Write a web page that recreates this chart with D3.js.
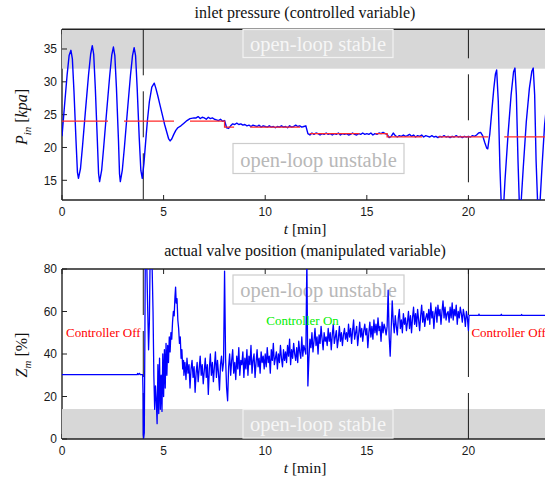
<!DOCTYPE html>
<html lang="en">
<head>
<meta charset="UTF-8">
<title>Inlet pressure and valve position</title>
<script src="https://d3js.org/d3.v7.min.js"></script>
<style>
    body { margin: 0; background: #fff; }
    svg { display: block; }
    .tick-label { font-family: "Liberation Sans", Arial, sans-serif; font-size: 12px; fill: #1a1a1a; }
    .serif { font-family: "Liberation Serif", "Times New Roman", serif; }
</style>
</head>
<body>
<div id="chart"></div>
<script>
// ---------- data ----------
var xTicks = [0, 5, 10, 15, 20];
var pinTicks = [15, 20, 25, 30, 35];
var zmTicks = [0, 20, 40, 60, 80];
var switchTimes = [4, 20];   // controller on / off [min]

// inlet pressure P_in [kPa] - start-up, controller off then on
var pinStartT = [0, 0.1, 0.25, 0.35, 0.44, 0.51, 0.59, 0.69, 0.76, 0.81,
    0.91, 1.01, 1.16, 1.31, 1.41, 1.49, 1.56, 1.64, 1.74, 1.80, 1.85,
    1.95, 2.05, 2.2, 2.35, 2.45, 2.53, 2.6, 2.68, 2.78, 2.83, 2.87,
    2.97, 3.07, 3.22, 3.37, 3.47, 3.55, 3.62, 3.7, 3.8, 3.88, 3.95,
    4.03, 4.12, 4.2, 4.3, 4.42, 4.54, 4.62, 4.72, 4.82, 4.95, 5.05, 5.15, 5.25, 5.32,
    5.4, 5.5, 5.6, 5.7, 5.85, 6.0, 6.15, 6.3, 6.5];
var pinStartV = [21.7, 25.5, 31, 34, 34.8, 33.5, 28.5, 21, 16.2, 15.3,
    16.8, 20.2, 25.8, 31.2, 34.2, 35.5, 34.2, 29, 21, 16, 14.8,
    16.5, 20, 25.6, 31, 34.1, 35.3, 34, 29, 21, 16, 14.8,
    16.6, 20, 25.6, 31, 34, 35.2, 34, 29, 21.5, 16.5, 15.3,
    17.5, 21, 24, 27, 29.2, 29.8, 29, 27.8, 26.5, 24.8, 23.5, 22.4, 21.3, 21.0,
    21.3, 22, 22.6, 23, 23.3, 23.7, 24.1, 24.4, 24.5];
// controlled part, sampled every 0.1 min from 6.6 min
var pinMidStart = 6.6, pinMidStep = 0.1;
var pinMid = [24.5, 24.7, 24.4, 24.6, 24.5, 24.3, 24.6, 24.4, 24.5, 24.3,
    24.2, 24.1, 24.3, 24.0,
    24.1, 23.0, 22.9, 23.3, 23.6, 23.5, 23.7, 23.5, 23.6, 23.4,
    23.5, 23.3, 23.4, 23.2, 23.4, 23.3, 23.2, 23.4, 23.1, 23.3,
    23.2, 23.1, 23.3, 23.1, 23.2, 23.0, 23.2, 23.1, 23.3, 23.1,
    23.2, 23.0, 23.3, 23.1, 23.2, 23.4, 23.2, 23.3, 23.1, 23.2,
    23.3, 22.1, 21.9, 22.2, 22.0, 22.2, 22.1, 21.9, 22.1, 22.0,
    22.2, 22.0, 22.1, 21.9, 22.1, 22.0, 22.2, 21.9, 22.1, 22.0,
    22.1, 21.9, 22.0, 22.2, 22.0, 21.9, 22.1, 22.0, 22.2, 22.0,
    22.1, 22.0, 22.2, 21.9, 22.1, 22.0, 22.2, 22.1, 22.3, 22.1,
    22.0, 21.5, 21.7, 22.2, 21.8, 21.6, 21.8, 21.7, 21.9, 21.7,
    21.8, 22.0, 21.7, 21.9, 21.6, 21.8, 21.7, 21.9, 21.6, 21.8,
    21.7, 21.6, 21.8, 21.6, 21.7, 21.5, 21.7, 21.6, 21.8, 21.6,
    21.7, 21.5, 21.7, 21.6, 21.8, 21.6, 21.7, 21.5, 21.7, 21.6,
    21.7, 21.6, 21.8, 21.7, 21.9, 22.2];
var pinEndT = [20.6, 20.7, 20.8, 20.9, 20.95, 21.05, 21.15, 21.25, 21.33, 21.39, 21.47, 21.55,
    21.62, 21.67, 21.73, 21.8, 21.95, 22.1, 22.22, 22.29, 22.36, 22.44, 22.5, 22.55, 22.6,
    22.7, 22.85, 23.0, 23.12, 23.19, 23.26, 23.33, 23.4, 23.47, 23.53, 23.62, 23.75, 23.9];
var pinEndV = [22.3, 21.8, 20.8, 19.9, 19.8, 22, 25.5, 29, 31.2, 31.8, 27, 17,
    11, 9.5, 11, 15, 22, 28, 31.5, 32.1, 28, 18, 12, 10, 12,
    17, 24, 29, 31.6, 32.1, 28, 18, 12, 10, 12, 17, 23.5, 28];

// set point [kPa]
var setT = [0, 8, 12, 16, 24];
var setV = [24, 23.1, 22.1, 21.6, 21.6];

// actual valve position Z_m [%]
var zmStartT = [0, 3.7, 3.72, 3.75, 3.82, 3.84, 3.97,
    3.99, 4.0, 4.02, 4.05, 4.08, 4.1, 4.16, 4.22, 4.26, 4.3,
    4.34, 4.42, 4.48, 4.52, 4.56, 4.6, 4.64, 4.68, 4.72, 4.76,
    4.8, 4.84, 4.88, 4.92, 4.96, 5.0, 5.04, 5.08, 5.12, 5.16,
    5.2, 5.24, 5.28, 5.32, 5.36, 5.4, 5.44, 5.48, 5.52, 5.56,
    5.59, 5.62, 5.66, 5.7, 5.74, 5.78, 5.82, 5.86, 5.9, 5.94, 5.98];
var zmStartV = [30.3, 30.3, 30.9, 30.3, 30.9, 30.3, 30.3,
    20, 2, 0.5, 3, 50, 88, 88, 60, 42, 55,
    88, 88, 60, 30, 14, 25, 18, 7.2, 35, 12,
    38, 14, 30, 13, 40, 20, 42, 24, 45, 30,
    44, 36, 48, 41, 50, 47, 55, 60, 58, 67,
    71.5, 64, 66, 56, 52, 45, 48, 38, 42, 33, 37];
// noisy controlled part, sampled every 0.05 min from 6.0 min
var zmMidStart = 6.0, zmMidStep = 0.05;
var zmMid = [
    30, 36, 28, 38, 31, 35, 24, 33, 37, 29, 34, 22, 31, 36, 27, 33, 39, 30, 35, 26,
    32, 38, 29, 35, 21, 33, 40, 30, 36, 27, 34, 41, 29, 37, 31, 23, 35, 39, 32, 36,
    79, 38, 24, 18, 34, 40, 30, 37, 42, 31, 36, 28, 39, 33, 43, 30, 37, 35, 41, 29,
    38, 33, 42, 30, 39, 35, 44, 31, 37, 40, 29, 36, 42, 34, 38, 31, 41, 36, 39, 33,
    40, 34, 43, 36, 39, 31, 42, 37, 45, 35, 38, 41, 33, 40, 36, 44, 38, 34, 42, 37,
    41, 36, 44, 39, 47, 35, 42, 38, 45, 40, 37, 43, 36, 46, 41, 38, 48, 39, 44, 42,
    40, 85, 25, 38, 47, 43, 50, 41, 46, 52, 44, 48, 40, 49, 45, 53, 47, 42, 50, 46,
    48, 44, 52, 46, 50, 42, 49, 54, 45, 48, 51, 43, 47, 53, 46, 50, 44, 49, 52, 47,
    50, 46, 54, 48, 52, 45, 51, 56, 47, 50, 53, 44, 49, 55, 48, 52, 46, 51, 54, 49,
    52, 43, 50, 55, 48, 53, 47, 56, 50, 54, 49, 57, 51, 53, 46, 55, 50, 54, 52, 49,
    53, 70, 48, 39, 52, 65, 55, 50, 58, 53, 49, 57, 61, 52, 56, 50, 59, 54, 57, 51,
    55, 60, 52, 58, 50, 57, 62, 54, 59, 53, 61, 56, 51, 58, 63, 55, 60, 53, 57, 59,
    56, 61, 54, 64, 57, 60, 52, 59, 62, 55, 63, 58, 61, 54, 60, 65, 57, 62, 56, 59,
    60, 55, 62, 57, 64, 56, 61, 58, 63, 54, 60, 57, 62, 59, 55, 61, 58, 53, 60, 57];
var zmEndT = [20.0, 20.03, 20.5, 20.52, 20.54, 21.6, 21.62, 21.64, 22.6, 22.62, 22.64, 24];
var zmEndV = [51, 58.2, 58.2, 58.8, 58.2, 58.2, 58.7, 58.2, 58.2, 58.6, 58.2, 58.2];

// ---------- helpers ----------
function pairs(ts, vs) {
    return ts.map(function(t, i) { return {t: t, v: vs[i]}; });
}
function sampled(start, step, vs) {
    return vs.map(function(v, i) { return {t: +(start + i * step).toFixed(3), v: v}; });
}

var pinData = pairs(pinStartT, pinStartV)
    .concat(sampled(pinMidStart, pinMidStep, pinMid))
    .concat(pairs(pinEndT, pinEndV));
var setData = pairs(setT, setV);
var zmData = pairs(zmStartT, zmStartV)
    .concat(sampled(zmMidStart, zmMidStep, zmMid))
    .concat(pairs(zmEndT, zmEndV));

var W = 545, H = 482;
var svg = d3.select("#chart").append("svg")
    .attr("width", W)
    .attr("height", H);

var x = d3.scaleLinear().domain([0, 24]).range([62, 549.7]);

function drawPanel(p) {
    var y = p.y;
    var y0 = y.range()[0], y1 = y.range()[1];
    var x0 = x.range()[0], x1 = x.range()[1];
    var g = svg.append("g");

    g.append("clipPath").attr("id", p.id)
        .append("rect")
        .attr("x", x0).attr("y", y1)
        .attr("width", x1 - x0).attr("height", y0 - y1);

    // x ticks (bottom and top, pointing inward)
    xTicks.forEach(function(t) {
        g.append("line").attr("x1", x(t)).attr("x2", x(t))
            .attr("y1", y0).attr("y2", y0 - 5).attr("stroke", "#222");
        g.append("line").attr("x1", x(t)).attr("x2", x(t))
            .attr("y1", y1).attr("y2", y1 + 5).attr("stroke", "#222");
        g.append("text").attr("class", "tick-label")
            .attr("x", x(t)).attr("y", y0 + 16)
            .attr("text-anchor", "middle")
            .text(t);
    });

    // left axis line
    g.append("line").attr("x1", x0).attr("x2", x0)
        .attr("y1", y1).attr("y2", y0)
        .attr("stroke", "#222").attr("stroke-width", 1.4);

    // grey band
    g.append("rect")
        .attr("x", x0).attr("width", x1 - x0)
        .attr("y", y(p.band[1])).attr("height", y(p.band[0]) - y(p.band[1]))
        .attr("fill", "#d7d7d7");

    // top and bottom borders
    [y0, y1].forEach(function(yy) {
        g.append("line").attr("x1", x0).attr("x2", x1)
            .attr("y1", yy).attr("y2", yy)
            .attr("stroke", "#222").attr("stroke-width", 1.4);
    });

    // y ticks
    p.ticks.forEach(function(v) {
        g.append("line").attr("x1", x0).attr("x2", x0 + 5)
            .attr("y1", y(v)).attr("y2", y(v)).attr("stroke", "#222");
        g.append("text").attr("class", "tick-label")
            .attr("x", x0 - 5).attr("y", y(v))
            .attr("dy", "0.36em")
            .attr("text-anchor", "end")
            .text(v);
    });

    // annotation boxes
    p.boxes.forEach(function(b) {
        g.append("rect")
            .attr("x", b.x).attr("y", b.y).attr("width", b.w).attr("height", b.h)
            .attr("fill", b.fill).attr("stroke", b.stroke).attr("stroke-width", 1.2);
        g.append("text").attr("class", "serif")
            .attr("x", b.x + b.w / 2).attr("y", b.y + b.h - 7)
            .attr("text-anchor", "middle")
            .attr("font-size", 20.5)
            .attr("fill", b.color)
            .text(b.text);
    });

    var plot = g.append("g").attr("clip-path", "url(#" + p.id + ")");

    // controller switch lines
    switchTimes.forEach(function(t, i) {
        plot.append("line")
            .attr("x1", x(t)).attr("x2", x(t))
            .attr("y1", y1).attr("y2", y0)
            .attr("stroke", "#1a1a1a").attr("stroke-width", 1)
            .attr("stroke-dasharray", "46,16")
            .attr("stroke-dashoffset", p.dashOffsets[i]);
    });

    var line = d3.line()
        .x(function(d) { return x(d.t); })
        .y(function(d) { return y(d.v); });

    plot.append("path")
        .datum(p.data)
        .attr("fill", "none")
        .attr("stroke", "#0000ff")
        .attr("stroke-width", p.width)
        .attr("stroke-linejoin", "round")
        .attr("d", line);

    if (p.setpoint) {
        plot.append("path")
            .datum(p.setpoint)
            .attr("fill", "none")
            .attr("stroke", "#ff2a2a")
            .attr("stroke-width", 1.3)
            .attr("stroke-dasharray", "50,16")
            .attr("stroke-dashoffset", 4)
            .attr("d", line.curve(d3.curveStepAfter));
    }

    // title
    svg.append("text").attr("class", "serif")
        .attr("x", 305).attr("y", p.titleY)
        .attr("text-anchor", "middle")
        .attr("font-size", 16)
        .attr("fill", "#111")
        .text(p.title);

    // x label
    var xl = svg.append("text").attr("class", "serif")
        .attr("x", 305).attr("y", y0 + 34)
        .attr("text-anchor", "middle")
        .attr("font-size", 15.5)
        .attr("fill", "#111");
    xl.append("tspan").attr("font-style", "italic").text("t");
    xl.append("tspan").text(" [min]");

    // y label
    var yl = svg.append("text").attr("class", "serif")
        .attr("transform", "translate(27," + p.labelY + ") rotate(-90)")
        .attr("text-anchor", "middle")
        .attr("font-size", 16)
        .attr("fill", "#111");
    yl.append("tspan").attr("font-style", "italic").text(p.sym);
    yl.append("tspan").attr("font-style", "italic").attr("font-size", 11)
        .attr("dy", 4).text(p.sub);
    yl.append("tspan").attr("dy", -4).text(" [");
    yl.append("tspan").attr("font-style", p.unitItalic ? "italic" : "normal").text(p.unit);
    yl.append("tspan").text("]");

    return g;
}

var yPin = d3.scaleLinear().domain([12, 38]).range([200, 29.3]);
var yZm = d3.scaleLinear().domain([0, 80]).range([439, 269]);

drawPanel({
    id: "clipTop", y: yPin, ticks: pinTicks, band: [32, 38],
    data: pinData, setpoint: setData, width: 1.4,
    dashOffsets: [0, 17],
    title: "inlet pressure (controlled variable)", titleY: 18,
    sym: "P", sub: "in", unit: "kpa", unitItalic: true, labelY: 117,
    boxes: [
        {x: 243, y: 29.5, w: 150, h: 28, fill: "none", stroke: "#f2f2f2", color: "#f6f6f6", text: "open-loop stable"},
        {x: 233, y: 143.5, w: 171, h: 30, fill: "#fff", stroke: "#cccccc", color: "#b8b8b8", text: "open-loop unstable"}
    ]
});

drawPanel({
    id: "clipBottom", y: yZm, ticks: zmTicks, band: [0, 14.1],
    data: zmData, setpoint: null, width: 1.3,
    dashOffsets: [0, 0],
    title: "actual valve position (manipulated variable)", titleY: 256,
    sym: "Z", sub: "m", unit: "%", unitItalic: false, labelY: 355,
    boxes: [
        {x: 233, y: 275, w: 171, h: 29, fill: "#fff", stroke: "#cccccc", color: "#b8b8b8", text: "open-loop unstable"},
        {x: 243, y: 409.5, w: 150, h: 28.5, fill: "none", stroke: "#f2f2f2", color: "#f6f6f6", text: "open-loop stable"}
    ]
});

// controller state labels
var states = [
    {t: 0.2, v: 48, text: "Controller Off", color: "#ff0000"},
    {t: 10.05, v: 53.5, text: "Controller On", color: "#00ee00"},
    {t: 20.15, v: 48, text: "Controller Off", color: "#ff0000"}
];
svg.selectAll(".state").data(states).enter().append("text")
    .attr("class", "serif state")
    .attr("x", function(d) { return x(d.t); })
    .attr("y", function(d) { return yZm(d.v); })
    .attr("font-size", 13)
    .attr("fill", function(d) { return d.color; })
    .text(function(d) { return d.text; });
</script>
</body>
</html>
